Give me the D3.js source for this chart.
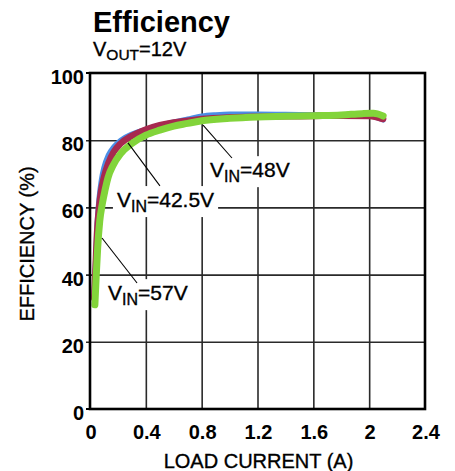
<!DOCTYPE html>
<html>
<head>
<meta charset="utf-8">
<script src="https://cdn.jsdelivr.net/npm/d3@7"></script>
<style>
  html, body { margin: 0; padding: 0; background: #fff; }
  svg { display: block; font-family: "Liberation Sans", Arial, Helvetica, sans-serif; }
</style>
</head>
<body>
<svg id="chart" width="455" height="471"></svg>
<script>
// ---- data ----
const xTicks = [0, 0.4, 0.8, 1.2, 1.6, 2, 2.4];
const yTicks = [0, 20, 40, 60, 80, 100];

const currentBlue = [0.03, 0.04, 0.05, 0.065, 0.08, 0.1, 0.13, 0.17, 0.22, 0.3, 0.4, 0.5, 0.6, 0.7, 0.8, 0.9, 1.0, 1.2, 1.4, 1.6, 1.8, 2.0, 2.1];
const effBlue     = [35, 45, 55, 63, 68, 72, 75.5, 78, 80, 81.8, 83.2, 84.4, 85.4, 86.3, 87.2, 87.6, 87.8, 87.8, 87.7, 87.6, 87.5, 87.2, 86.0];

const currentRed = [0.03, 0.04, 0.05, 0.065, 0.08, 0.1, 0.13, 0.17, 0.22, 0.3, 0.4, 0.5, 0.6, 0.7, 0.8, 1.0, 1.2, 1.4, 1.6, 1.8, 2.0, 2.1];
const effRed     = [33, 42, 52, 60, 65, 69, 73, 76.5, 79, 81.3, 83.2, 84.5, 85.3, 85.8, 86.3, 86.8, 87.0, 87.1, 87.2, 87.3, 87.2, 86.3];

const currentGreen = [0.035, 0.045, 0.055, 0.07, 0.088, 0.107, 0.13, 0.165, 0.22, 0.3, 0.4, 0.5, 0.6, 0.7, 0.8, 1.0, 1.2, 1.4, 1.6, 1.8, 1.95, 2.03, 2.1];
const effGreen     = [31, 40, 48, 56, 61, 65, 69, 72.5, 76, 79, 81.5, 83, 84.2, 85, 85.8, 86.5, 86.9, 87.1, 87.3, 87.5, 87.9, 88.0, 87.2];

const labelNames = ["48V", "42.5V", "57V"];
const labelTextX = [0.86, 0.193, 0.129];
const labelTextY = [69, 60.1, 32.4];
const leaderX1 = [0.81, 0.272, 0.086];
const leaderY1 = [84.5, 79.2, 50.9];
const leaderX2 = [1.017, 0.501, 0.337];
const leaderY2 = [74.7, 66.4, 37.5];

// ---- layout ----
const svg = d3.select("#chart");
const L = 90, R = 425, T = 73, B = 409;
const x = d3.scaleLinear().domain([0, 2.4]).range([L, R]);
const y = d3.scaleLinear().domain([0, 100]).range([B, T]);
const heavy = t => t.attr("stroke", "#000").attr("stroke-width", 0.35);

// grid via axes
svg.append("g")
  .attr("transform", `translate(${L},0)`)
  .call(d3.axisLeft(y).tickValues(yTicks.slice(1, -1)).tickSize(-(R - L) - 4).tickFormat(""))
  .call(g => g.select(".domain").remove())
  .call(g => g.selectAll("line").attr("stroke", "#2a2a2a").attr("stroke-width", 1.6).attr("transform", "translate(-4,0)").attr("x2", R - L + 4).attr("x1", 0));

svg.append("g")
  .attr("transform", `translate(0,${B})`)
  .call(d3.axisBottom(x).tickValues(xTicks.slice(1, -1)).tickSize(-(B - T)).tickFormat(""))
  .call(g => g.select(".domain").remove())
  .call(g => g.selectAll("line").attr("stroke", "#2a2a2a").attr("stroke-width", 1.6));

// small outer ticks at 0 and 100
svg.append("g").selectAll("line").data([0, 100]).join("line")
  .attr("x1", L - 4).attr("x2", L).attr("y1", d => y(d)).attr("y2", d => y(d))
  .attr("stroke", "#000").attr("stroke-width", 2);

// tick labels
svg.append("g").selectAll("text").data(yTicks).join("text")
  .attr("x", L - 6).attr("y", d => y(d) + 11)
  .attr("text-anchor", "end").attr("font-size", 20).attr("font-weight", "bold")
  .text(d => d);

svg.append("g").selectAll("text").data(xTicks).join("text")
  .attr("x", d => x(d) + 1).attr("y", 439)
  .attr("text-anchor", "middle").attr("font-size", 20).attr("font-weight", "bold")
  .text(d => d);

// curves
const line = d3.line().curve(d3.curveMonotoneX).x(d => x(d[0])).y(d => y(d[1]));
const series = [
  { xs: currentBlue, ys: effBlue, color: "#4a8ee6", w: 5 },
  { xs: currentRed, ys: effRed, color: "#a7294f", w: 6.5 },
  { xs: currentGreen, ys: effGreen, color: "#82d43a", w: 7 }
];
series.forEach(s => {
  svg.append("path")
    .datum(s.xs.map((v, i) => [v, s.ys[i]]))
    .attr("d", line)
    .attr("fill", "none")
    .attr("stroke", s.color)
    .attr("stroke-width", s.w)
    .attr("stroke-linecap", "round")
    .attr("stroke-linejoin", "round");
});

// labels with leader lines
labelNames.forEach((name, i) => {
  const g = svg.append("g");
  const tx = x(labelTextX[i]), ty = y(labelTextY[i]);
  const t = g.append("text").attr("x", tx).attr("y", ty).attr("font-size", 21).call(heavy);
  t.append("tspan").text("V");
  t.append("tspan").attr("font-size", 16).attr("dy", 5).text("IN");
  t.append("tspan").attr("dy", -5).text("=" + name);
  const bb = t.node().getBBox();
  g.insert("rect", "text")
    .attr("x", bb.x - 4).attr("y", bb.y - 2)
    .attr("width", bb.width + 8).attr("height", bb.height + 4)
    .attr("fill", "#fff");
  svg.append("line")
    .attr("x1", x(leaderX1[i])).attr("y1", y(leaderY1[i]))
    .attr("x2", x(leaderX2[i])).attr("y2", y(leaderY2[i]))
    .attr("stroke", "#000").attr("stroke-width", 1.1);
});

// frame
svg.append("rect")
  .attr("x", L).attr("y", T).attr("width", R - L).attr("height", B - T)
  .attr("fill", "none").attr("stroke", "#000").attr("stroke-width", 2.6);

// titles
svg.append("text").attr("x", 93).attr("y", 32)
  .attr("font-size", 29).attr("font-weight", "bold").text("Efficiency");
const vt = svg.append("text").attr("x", 93).attr("y", 56).attr("font-size", 20).call(heavy);
vt.append("tspan").text("V");
vt.append("tspan").attr("font-size", 15.5).attr("dy", 4).text("OUT");
vt.append("tspan").attr("dy", -4).text("=12V");

svg.append("text")
  .attr("x", (L + R) / 2 + 1).attr("y", 468)
  .attr("text-anchor", "middle").attr("font-size", 20).call(heavy)
  .text("LOAD CURRENT (A)");

svg.append("text")
  .attr("transform", `translate(34,${(T + B) / 2 + 3}) rotate(-90)`)
  .attr("text-anchor", "middle").attr("font-size", 20).call(heavy)
  .text("EFFICIENCY (%)");
</script>
</body>
</html>
